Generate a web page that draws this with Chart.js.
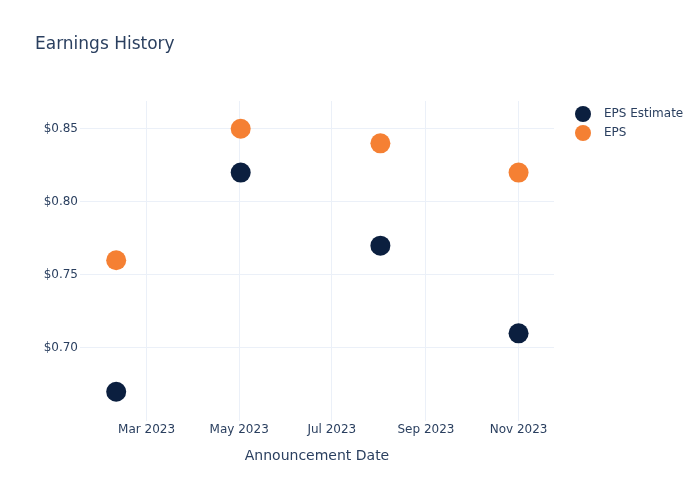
<!DOCTYPE html>
<html><head><meta charset="utf-8">
<script src="https://cdn.jsdelivr.net/npm/chart.js@4"></script>
<style>html,body{margin:0;padding:0;background:#fff}#wrap{width:700px;height:500px}</style>
</head><body><div id="wrap"><canvas id="c" width="700" height="500"></canvas></div>
<script>
const announcementDates = ["2023-02-09", "2023-05-02", "2023-08-02", "2023-11-01"];
const epsEstimate = [0.67, 0.82, 0.77, 0.71];
const epsActual = [0.76, 0.85, 0.84, 0.82];
const xTickDates = ["2023-03-01", "2023-05-01", "2023-07-01", "2023-09-01", "2023-11-01"];
const xTickLabels = ["Mar 2023", "May 2023", "Jul 2023", "Sep 2023", "Nov 2023"];
const yTicks = [0.70, 0.75, 0.80, 0.85];
const seriesNames = ["EPS Estimate", "EPS"];
const seriesColors = ["#0b1f3f", "#f58033"];

const toMs = s => Date.parse(s + "T00:00:00Z");
const FONT = "'DejaVu Sans', sans-serif";
const TXT = "#2a3f5f";

const overlay = {
  id: 'overlay',
  afterDraw(chart) {
    const ctx = chart.ctx;
    const ca = chart.chartArea;
    ctx.save();
    ctx.fillStyle = TXT;
    ctx.font = "17px " + FONT;
    ctx.textBaseline = "middle";
    ctx.textAlign = "left";
    ctx.fillText("Earnings History", 35, 45);
    chart.data.datasets.forEach((ds, i) => {
      const y = 114 + i * 19;
      ctx.beginPath();
      ctx.arc(583, y, 8, 0, Math.PI * 2);
      ctx.fillStyle = ds.backgroundColor;
      ctx.fill();
      ctx.fillStyle = TXT;
      ctx.font = "12px " + FONT;
      ctx.fillText(ds.label, 604, y);
    });
    ctx.font = "14px " + FONT;
    ctx.textAlign = "center";
    ctx.fillText("Announcement Date", (ca.left + ca.right) / 2, 456);
    ctx.restore();
  }
};

new Chart(document.getElementById('c'), {
  type: 'scatter',
  data: {
    datasets: [
      { label: seriesNames[0], data: announcementDates.map((d, i) => ({x: toMs(d), y: epsEstimate[i]})),
        backgroundColor: seriesColors[0], borderColor: seriesColors[0], pointRadius: 10, borderWidth: 0 },
      { label: seriesNames[1], data: announcementDates.map((d, i) => ({x: toMs(d), y: epsActual[i]})),
        backgroundColor: seriesColors[1], borderColor: seriesColors[1], pointRadius: 10, borderWidth: 0 }
    ]
  },
  options: {
    responsive: false,
    animation: false,
    layout: { padding: { top: 101, right: 146, left: 0, bottom: 0 } },
    plugins: { legend: { display: false }, title: { display: false }, tooltip: { enabled: false } },
    scales: {
      x: {
        type: 'linear',
        min: toMs("2023-01-16") + 4 * 3600e3,
        max: toMs("2023-11-24") + 8 * 3600e3,
        afterBuildTicks: ax => { ax.ticks = xTickDates.map(d => ({ value: toMs(d) })); },
        afterFit: ax => { ax.height = 79; },
        grid: { color: "#ebf0f8", drawTicks: false, lineWidth: 1 },
        border: { display: false },
        ticks: {
          padding: 2, color: TXT, font: { family: FONT, size: 12 },
          maxRotation: 0, autoSkip: false,
          callback: (v) => { const i = xTickDates.findIndex(d => toMs(d) === v); return i >= 0 ? xTickLabels[i] : ""; }
        }
      },
      y: {
        min: 0.65, max: 0.869,
        afterBuildTicks: ax => { ax.ticks = yTicks.map(v => ({ value: v })); },
        afterFit: ax => { ax.width = 80; },
        grid: { color: "#ebf0f8", drawTicks: false, lineWidth: 1 },
        border: { display: false },
        ticks: { padding: 2, color: TXT, font: { family: FONT, size: 12 }, callback: v => "$" + Number(v).toFixed(2) }
      }
    }
  },
  plugins: [overlay]
});
</script></body></html>
